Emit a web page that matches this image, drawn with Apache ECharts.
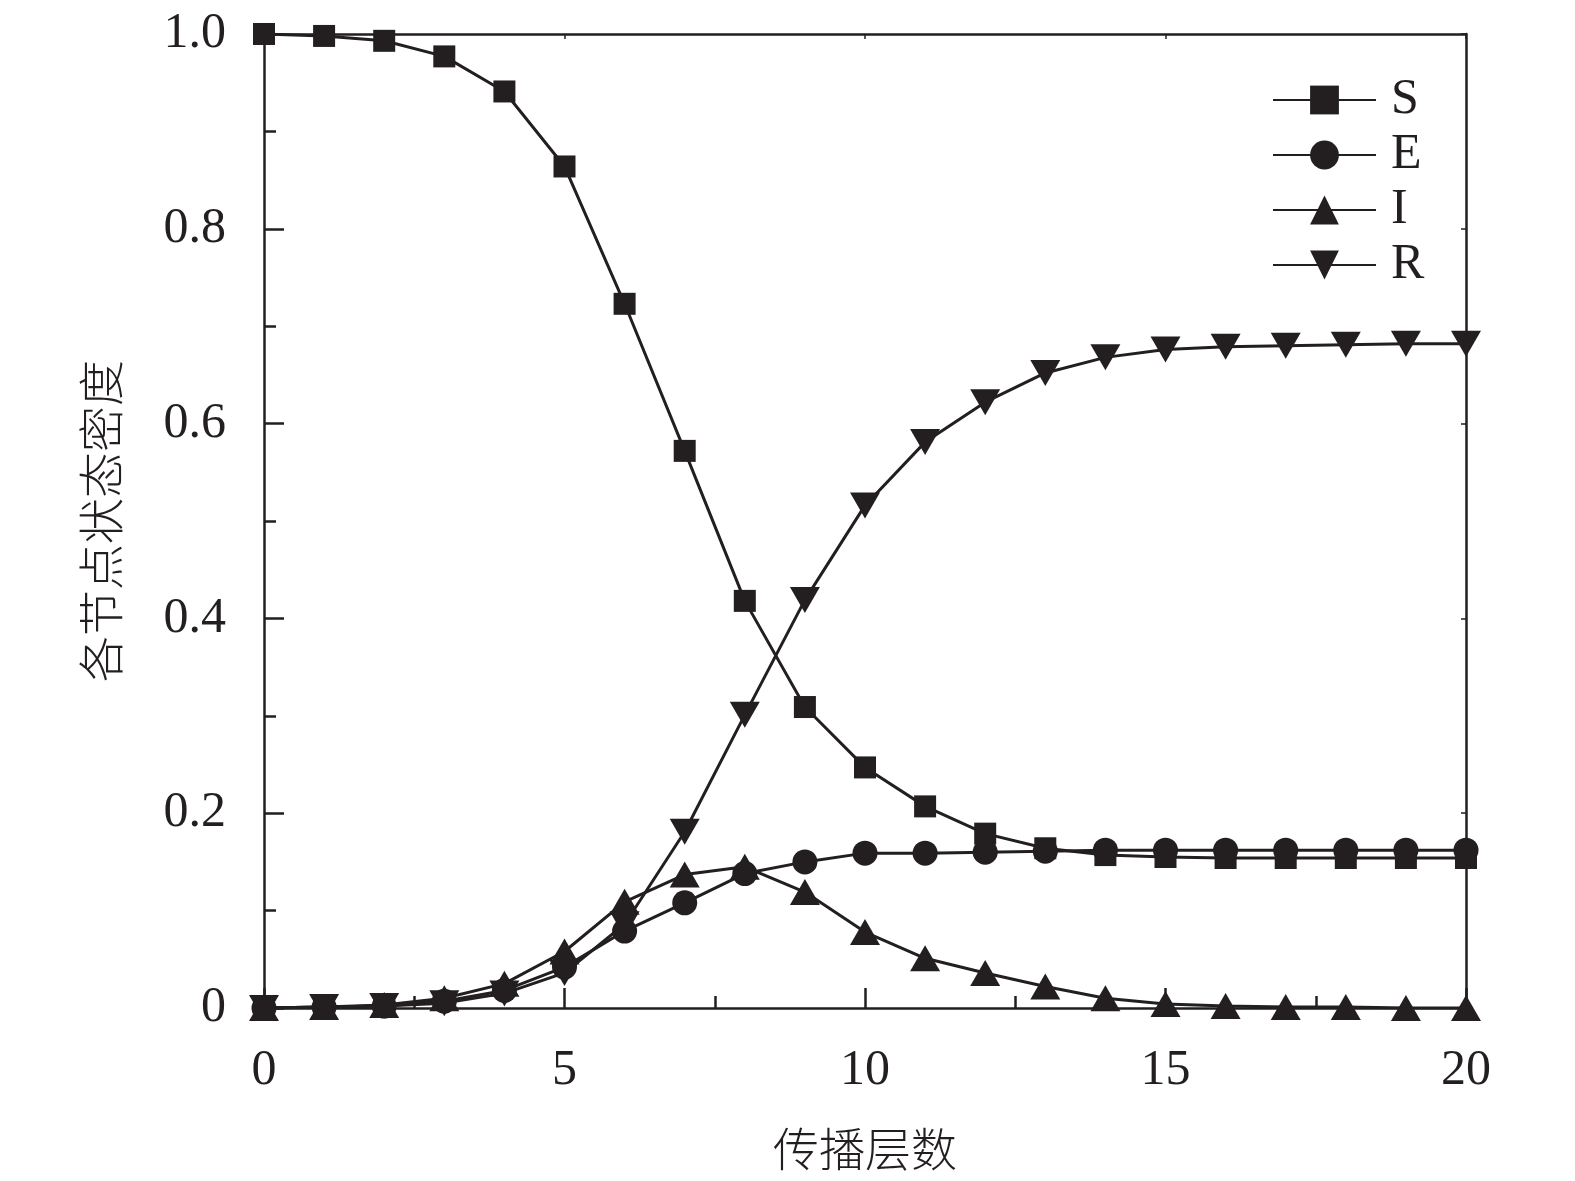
<!DOCTYPE html>
<html>
<head>
<meta charset="utf-8">
<script src="https://cdn.jsdelivr.net/npm/echarts@6/dist/echarts.min.js"></script>
<style>
  html, body { margin: 0; padding: 0; background: #fff; }
  #chart { width: 1575px; height: 1181px; }
</style>
</head>
<body>
<div id="chart"></div>
<script>
// 传播层数
var layers = [0, 1, 2, 3, 4, 5, 6, 7, 8, 9, 10, 11, 12, 13, 14, 15, 16, 17, 18, 19, 20];

// 各节点状态密度
var sData = [1.000, 0.998, 0.993, 0.977, 0.941, 0.864, 0.723, 0.572, 0.418, 0.309, 0.247,
             0.207, 0.179, 0.164, 0.157, 0.155, 0.154, 0.154, 0.154, 0.154, 0.154];
var eData = [0.000, 0.001, 0.002, 0.007, 0.018, 0.042, 0.079, 0.108, 0.138, 0.150, 0.159,
             0.159, 0.160, 0.161, 0.162, 0.162, 0.162, 0.162, 0.162, 0.162, 0.162];
var iData = [0.000, 0.001, 0.003, 0.010, 0.025, 0.058, 0.109, 0.137, 0.145, 0.119, 0.078,
             0.051, 0.036, 0.022, 0.010, 0.004, 0.002, 0.001, 0.001, 0.000, 0.000];
var rData = [0.000, 0.001, 0.002, 0.005, 0.015, 0.036, 0.086, 0.181, 0.301, 0.419, 0.516,
             0.581, 0.622, 0.652, 0.668, 0.676, 0.679, 0.680, 0.681, 0.682, 0.682];

var ink = '#231f20';
var serif = 'Liberation Serif';
var cjk = 'Noto Sans CJK SC';

function pairs(vals) {
  return layers.map(function (x, i) { return [x, vals[i]]; });
}

function makeSeries(name, vals, symbol, size, rotate) {
  return {
    name: name,
    type: 'line',
    data: pairs(vals),
    symbol: symbol,
    symbolSize: size,
    symbolRotate: rotate || 0,
    showAllSymbol: true,
    lineStyle: { color: ink, width: 3 },
    itemStyle: { color: ink, borderWidth: 0 },
    emphasis: { disabled: true },
    z: 3
  };
}

var chart = echarts.init(document.getElementById('chart'));

var option = {
  backgroundColor: '#fff',
  animation: false,
  grid: { left: 264, right: 109, top: 34, bottom: 173 },
  legend: {
    orient: 'vertical',
    left: 1267,
    top: 70,
    itemWidth: 103,
    itemHeight: 36,
    itemGap: 5,
    data: ['S', 'E', 'I', 'R'],
    textStyle: { fontFamily: serif, fontSize: 50, color: ink, padding: [0, 0, 0, 10] }
  },
  xAxis: [{
    type: 'value',
    min: 0,
    max: 20,
    interval: 5,
    name: '传播层数',
    nameLocation: 'middle',
    nameGap: 118,
    nameTextStyle: { fontFamily: cjk, fontSize: 46, color: ink, fontWeight: 300 },
    axisLine: { show: true, lineStyle: { color: ink, width: 2.5 } },
    axisTick: { show: true, inside: true, length: 20, lineStyle: { color: ink, width: 2.5 } },
    minorTick: { show: true, splitNumber: 2, length: 12, lineStyle: { color: ink, width: 2.5 } },
    axisLabel: { fontFamily: serif, fontSize: 50, color: ink, margin: 38 },
    splitLine: { show: false }
  }, {
    type: 'value',
    position: 'top',
    min: 0,
    max: 20,
    interval: 5,
    axisLine: { show: true, onZero: false, lineStyle: { color: ink, width: 2.5 } },
    axisTick: { show: true, inside: true, length: 5, lineStyle: { color: ink, width: 1.5 } },
    axisLabel: { show: false },
    splitLine: { show: false }
  }],
  yAxis: [{
    type: 'value',
    min: 0,
    max: 1,
    interval: 0.2,
    name: '各节点状态密度',
    nameLocation: 'middle',
    nameGap: 140,
    nameTextStyle: { fontFamily: cjk, fontSize: 46, color: ink, fontWeight: 300 },
    axisLine: { show: true, lineStyle: { color: ink, width: 2.5 } },
    axisTick: { show: true, inside: true, length: 20, lineStyle: { color: ink, width: 2.5 } },
    minorTick: { show: true, splitNumber: 2, length: 12, lineStyle: { color: ink, width: 2.5 } },
    axisLabel: {
      fontFamily: serif, fontSize: 50, color: ink, margin: 38,
      formatter: function (v) { return v === 0 ? '0' : v.toFixed(1); }
    },
    splitLine: { show: false }
  }, {
    type: 'value',
    position: 'right',
    min: 0,
    max: 1,
    interval: 0.2,
    axisLine: { show: true, onZero: false, lineStyle: { color: ink, width: 2.5 } },
    axisTick: { show: true, inside: true, length: 5, lineStyle: { color: ink, width: 1.5 } },
    axisLabel: { show: false },
    splitLine: { show: false }
  }],
  series: [
    makeSeries('S', sData, 'rect', 22),
    makeSeries('E', eData, 'circle', 25),
    makeSeries('I', iData, 'triangle', [30, 26]),
    makeSeries('R', rData, 'triangle', [30, 26], 180)
  ]
};

chart.setOption(option);
</script>
</body>
</html>
